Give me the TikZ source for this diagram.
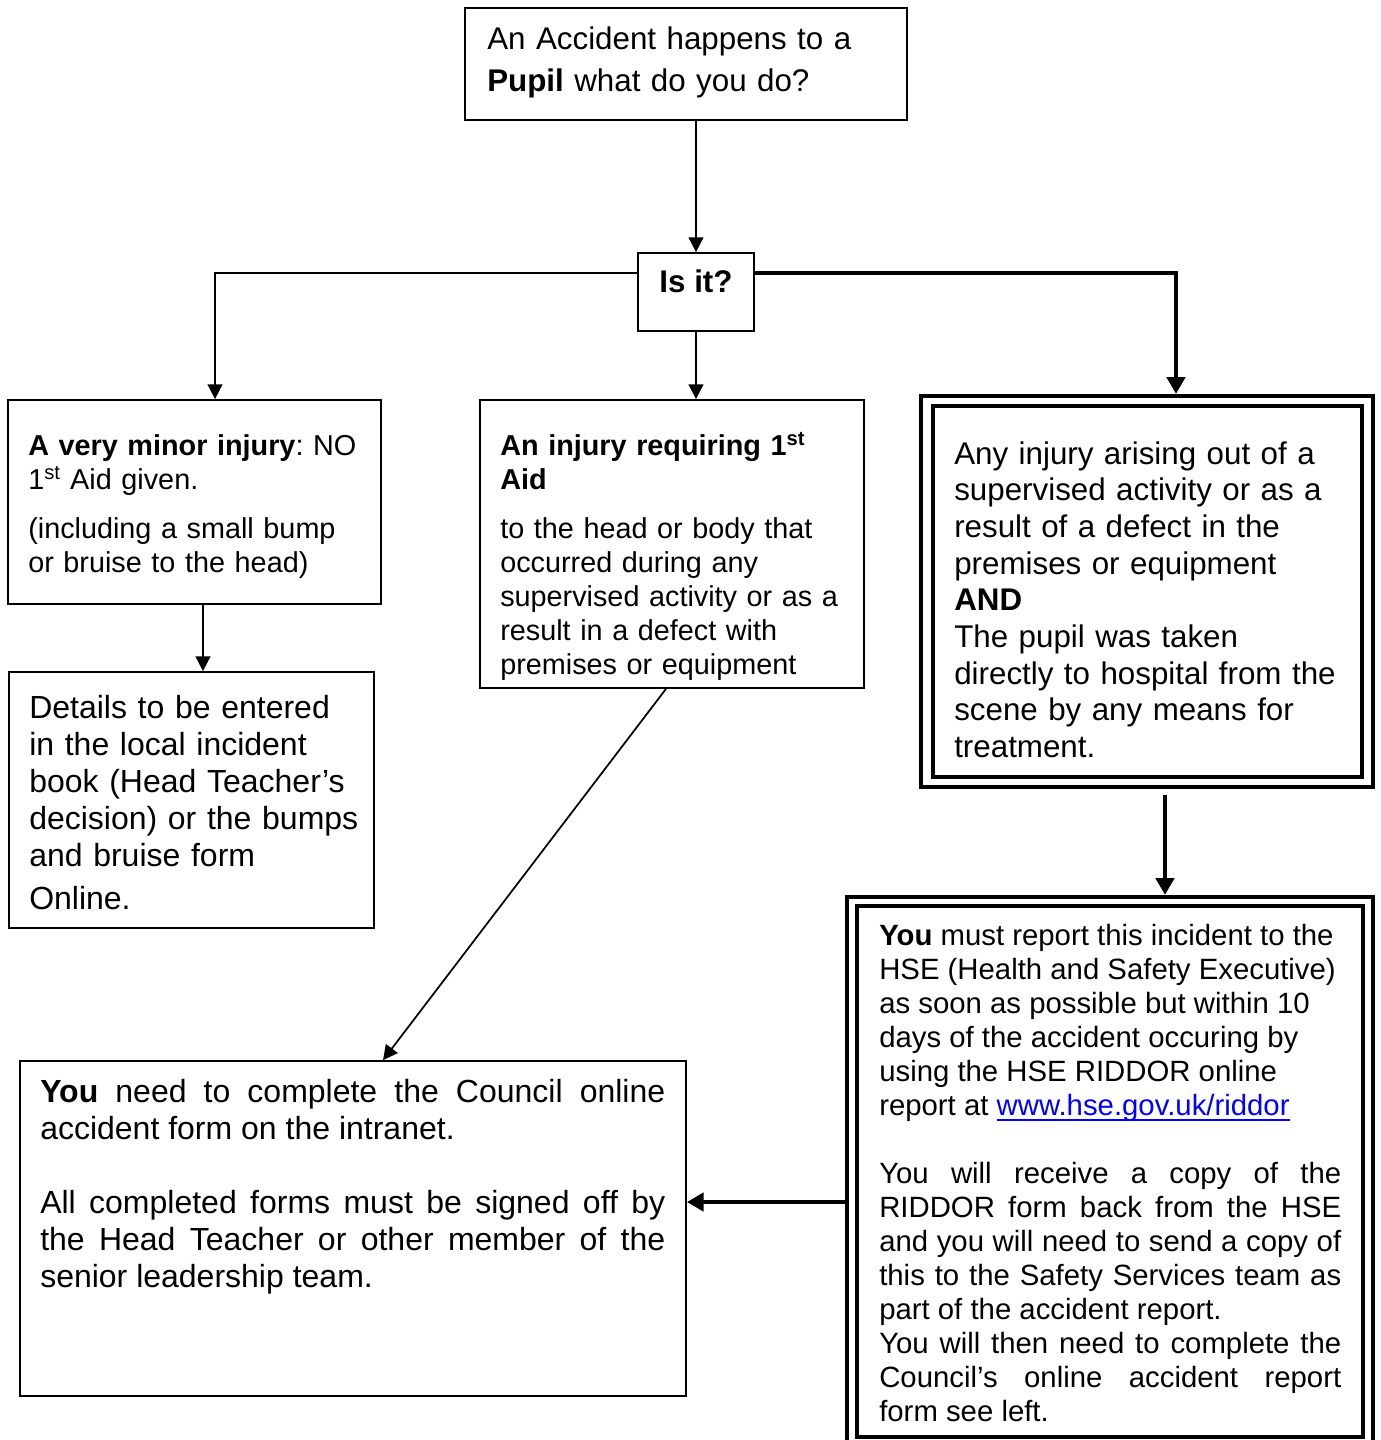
\documentclass[tikz,border=0pt]{standalone}
\usepackage{fontspec}
\setmainfont{Liberation Sans}
\usetikzlibrary{arrows.meta}
\definecolor{linkblue}{RGB}{0,0,255}
\newcommand\mystrut[1]{\rule{0pt}{#1}}
\newcommand\myul[1]{\setbox0\hbox{#1}\rlap{\rule[-3.6pt]{\wd0}{1.3pt}}\box0}
\frenchspacing
\begin{document}
\begin{tikzpicture}[x=0.75pt,y=-0.75pt,
  box/.style={draw, line width=1.3pt, inner sep=0pt},
  dbl/.style={draw, line width=3.2pt, inner sep=0pt},
  thinarrow/.style={line width=1.3pt, -{Triangle[length=11pt,width=11pt]}},
  thickarrow/.style={line width=3.6pt, -{Triangle[length=12.5pt,width=13.5pt]}},
  txt/.style={anchor=north west, inner sep=0pt, text width=500*0.75pt, align=left,
    execute at begin node={\frenchspacing\setlength\parindent{0pt}\tolerance=10000\hbadness=10000}},
  jtxt/.style={anchor=north west, inner sep=0pt, align=justify,
    execute at begin node={\frenchspacing\setlength\parindent{0pt}\tolerance=10000\hbadness=10000}},
  big/.style={font=\fontsize{24pt}{27.75pt}\selectfont},
  small/.style={font=\fontsize{21.6pt}{25.5pt}\selectfont}
]
\useasboundingbox (0,0) rectangle (1381,1440);
\clip (0,0) rectangle (1381,1440);

% boxes
\node[box, minimum width=331.5pt, minimum height=84pt] (top) at (686,64) {};
\node[box, minimum width=87pt, minimum height=58.5pt] (isit) at (696,292) {};
\node[box, minimum width=279.75pt, minimum height=153pt] (minor) at (194.5,502) {};
\node[box, minimum width=288pt, minimum height=216pt] (mid) at (672,544) {};
\node[box, minimum width=273.75pt, minimum height=192pt] (details) at (191.5,800) {};
\node[box, minimum width=499.5pt, minimum height=251.25pt] (cform) at (353,1228.5) {};
\node[dbl, minimum width=339pt, minimum height=293.25pt] (rbo) at (1147,591.5) {};
\node[dbl, minimum width=321.75pt, minimum height=278.25pt] (rbi) at (1147.5,591.5) {};
\node[dbl, minimum width=394.5pt, minimum height=414.75pt] (rdo) at (1110,1173.5) {};
\node[dbl, minimum width=379.5pt, minimum height=398.25pt] (rdi) at (1110,1171.5) {};

% texts
\node[txt, font=\fontsize{23.5pt}{31.5pt}\selectfont] (ttop) at (487,21)
  {\mystrut{21pt}An Accident happens to a\\\textbf{Pupil} what do you do?};
\node[anchor=base, inner sep=0pt, font=\fontsize{23.5pt}{27pt}\selectfont\bfseries] (tisit) at (696,292) {Is it?};
\node[txt, small] (tminor) at (28,429)
  {\mystrut{19.5pt}\textbf{A very minor injury}: NO\\1\textsuperscript{st} Aid given.\\[11.25pt](including a small bump\\or bruise to the head)};
\node[txt, small] (tmid) at (500,429)
  {\mystrut{19.5pt}\textbf{An injury requiring 1\textsuperscript{st}}\\\textbf{Aid}\\[11.25pt]to the head or body that\\occurred during any\\supervised activity or as a\\result in a defect with\\premises or equipment};
\node[txt, font=\fontsize{23.5pt}{27.5pt}\selectfont] (tright) at (954,436)
  {\mystrut{21pt}Any injury arising out of a\\supervised activity or as a\\result of a defect in the\\premises or equipment\\\textbf{AND}\\The pupil was taken\\directly to hospital from the\\scene by any means for\\treatment.};
\node[txt, big] (tdetails) at (29,690)
  {\mystrut{21pt}Details to be entered\\in the local incident\\book (Head Teacher’s\\decision) or the bumps\\and bruise form\\[4.5pt]Online.};
\node[jtxt, big, text width=468.75pt] (tcform) at (40,1074)
  {\mystrut{21pt}\textbf{You} need to complete the Council online\linebreak accident form on the intranet.\par\vspace{27.75pt}All completed forms must be signed off by\linebreak the Head Teacher or other member of the\linebreak senior leadership team.};
\node[jtxt, font=\fontsize{22pt}{25.5pt}\selectfont, text width=346.5pt] (triddor) at (879,919.5)
  {\mystrut{19.5pt}\textbf{You} must report this incident to the\\HSE (Health and Safety Executive)\\as soon as possible but within 10\\days of the accident occuring by\\using the HSE RIDDOR online\\report at \textcolor{linkblue}{\myul{www.hse.gov.uk/riddor}}\par\vspace{25.5pt}You will receive a copy of the\linebreak RIDDOR form back from the HSE\linebreak and you will need to send a copy of\linebreak this to the Safety Services team as\linebreak part of the accident report.\par You will then need to complete the\linebreak Council’s online accident report\linebreak form see left.};

% connector anchor points
\path (isit.west) ++(0,-19) coordinate (isitL);
\path (isit.east) ++(0,-19) coordinate (isitR);
\path (minor.north) ++(20.5,0) coordinate (minorIn);
\path (minor.south) ++(8.5,0) coordinate (minorOut);
\path (mid.south) ++(-6,0) coordinate (midOut);
\path (cform.north) ++(30,0) coordinate (cformIn);
\path (rbo.north) ++(29,0) coordinate (rboIn);
\path (rbo.south) ++(18,6) coordinate (rboOut);
\path (rdo.west) ++(3,28.5) coordinate (rdoOut);

% connectors
\draw[thinarrow] (isit.north |- top.south) -- (isit.north);
\draw[thinarrow] (isitL) -| (minorIn);
\draw[thinarrow] (isit.south) -- (isit.south |- mid.north);
\draw[thickarrow] (isitR) -| (rboIn);
\draw[thinarrow] (minorOut) -- (minorOut |- details.north);
\draw[thinarrow] (midOut) -- (cformIn);
\draw[thickarrow] (rboOut) -- (rboOut |- rdo.north);
\draw[thickarrow] (rdoOut) -- (rdoOut -| cform.east);
\end{tikzpicture}
\end{document}
